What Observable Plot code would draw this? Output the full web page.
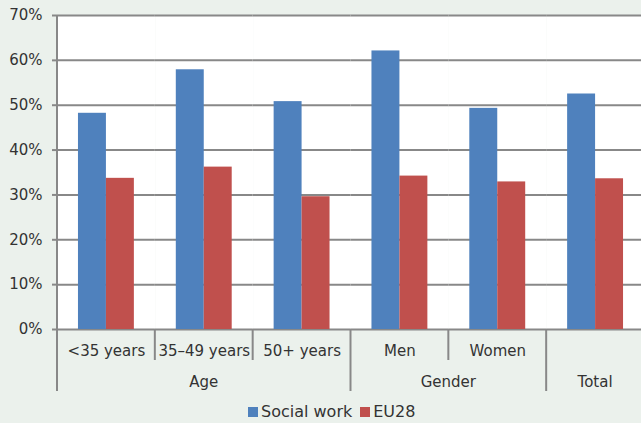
<!DOCTYPE html>
<html>
<head>
<meta charset="utf-8">
<script src="https://cdn.jsdelivr.net/npm/d3@7"></script>
<script src="https://cdn.jsdelivr.net/npm/@observablehq/plot@0.6"></script>
<style>
  html, body { margin: 0; padding: 0; background: #ebf1ec; }
  body { width: 641px; height: 423px; overflow: hidden; font-family: "DejaVu Sans", sans-serif; }
  #chart svg { display: block; }
  .lg-swatches { margin: -3px 0 0 0 !important; padding-left: 248px; height: 22px; align-items: center; }
  .lg-swatch { margin-right: 8px !important; }
  .lg-swatch > svg { margin-right: 3px !important; }
</style>
</head>
<body>
<div id="chart"></div>
<script>
// Share of workers, by age group and gender (%)
const categories = ["<35 years", "35–49 years", "50+ years", "Men", "Women", "Total"];
const groups = ["Age", "Age", "Age", "Gender", "Gender", "Total"];
const series = ["Social work", "EU28"];
const socialWork = [48.2, 57.9, 50.8, 62.1, 49.3, 52.5];
const eu28 = [33.7, 36.2, 29.6, 34.2, 32.9, 33.6];
const yTicks = [0, 10, 20, 30, 40, 50, 60, 70];

const colors = ["#4f81bd", "#c0504d"];
const lineColor = "#888888";
const textColor = "#333333";

const table = categories.flatMap((c, i) => [
  {category: c, group: groups[i], series: series[0], value: socialWork[i]},
  {category: c, group: groups[i], series: series[1], value: eu28[i]}
]);

// a category that is its own group gets no first-level label
const categoryLabel = c => (groups[categories.indexOf(c)] === c ? "" : c);

const plot = Plot.plot({
  width: 641,
  height: 398,
  marginLeft: 57,
  marginRight: -3,
  marginTop: 15,
  marginBottom: 69,
  style: {background: "transparent", fontFamily: "DejaVu Sans", fontSize: "15px", color: textColor, overflow: "hidden"},
  fx: {domain: categories, padding: 0, round: false, label: null},
  x: {domain: series, paddingInner: 0, paddingOuter: 0.75, round: false, axis: null},
  y: {domain: [0, 70], label: null},
  color: {domain: series, range: colors},
  marks: [
    Plot.frame({fill: "white", stroke: null}),
    Plot.ruleY(yTicks, {stroke: lineColor, strokeWidth: 2}),
    Plot.barY(table, {fx: "category", x: "series", y: "value", fill: "series"}),
    Plot.axisY({ticks: yTicks, tickFormat: d => d + "%", tickSize: 5, tickPadding: 10,
                stroke: lineColor, strokeWidth: 2, fill: textColor, label: null}),
    Plot.axisFx({anchor: "bottom", tickSize: 0, tickPadding: 16, label: null, fill: textColor,
                 tickFormat: categoryLabel})
  ]
});

// Two-level category axis: separators and group labels, placed with the facet scale
const fx = plot.scale("fx");
const y = plot.scale("y");
const y0 = y.apply(0);
const yTop = y.apply(70);
const svg = d3.select(plot);
const sep = svg.append("g").attr("stroke", lineColor).attr("stroke-width", 2);

// vertical axis line, continuing below as the outer separator
const xLeft = fx.apply(categories[0]);
sep.append("line").attr("x1", xLeft).attr("x2", xLeft).attr("y1", yTop).attr("y2", y0 + 62);

categories.forEach((c, i) => {
  if (i === 0) return;
  const x = fx.apply(c);
  const long = groups[i] !== groups[i - 1];
  sep.append("line").attr("x1", x).attr("x2", x).attr("y1", y0).attr("y2", y0 + (long ? 62 : 31));
});
const xRight = fx.apply(categories[categories.length - 1]) + fx.bandwidth;
sep.append("line").attr("x1", xRight).attr("x2", xRight).attr("y1", y0).attr("y2", y0 + 62);

const groupNames = [...new Set(groups)];
const lab = svg.append("g")
  .attr("font-family", "DejaVu Sans").attr("font-size", 15)
  .attr("fill", textColor).attr("text-anchor", "middle");
groupNames.forEach(gname => {
  const members = categories.filter((c, i) => groups[i] === gname);
  const a = fx.apply(members[0]);
  const b = fx.apply(members[members.length - 1]) + fx.bandwidth;
  lab.append("text").attr("x", (a + b) / 2).attr("y", y0 + 58).text(gname);
});

const legend = Plot.legend({
  color: {domain: series, range: colors},
  swatchSize: 10,
  className: "lg",
  style: {fontFamily: "DejaVu Sans", fontSize: "16px", color: textColor}
});

const root = document.getElementById("chart");
root.appendChild(plot);
root.appendChild(legend);
</script>
</body>
</html>
